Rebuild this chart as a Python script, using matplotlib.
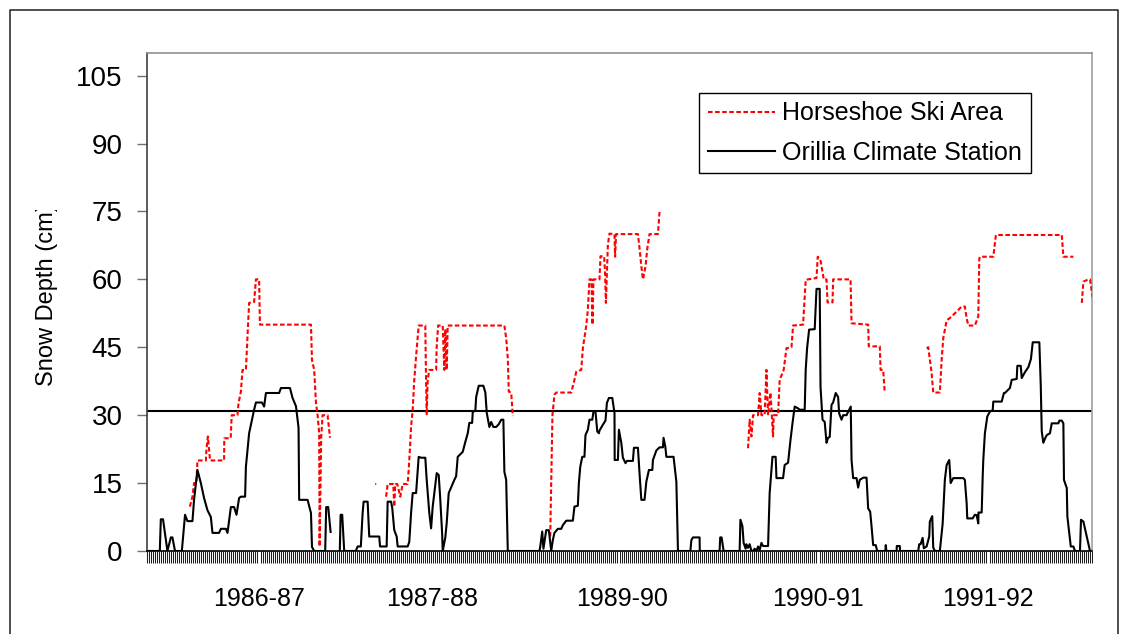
import numpy as np
import matplotlib
matplotlib.use("Agg")
import matplotlib.pyplot as plt
from matplotlib.patches import Rectangle
from matplotlib.lines import Line2D

nan = np.nan

# day index along the x axis (0 = first day shown), snow depth in cm
orillia_day = [
    # 1986-87
    0, 6.4, 6.9, 8, 10.2, 11.9, 12.7, 14, 17.4, 19, 20.2, 22.7, 23.5, 25.2, 26.9, 28.5, 30.2,
    31.9, 32.7, 36, 36.9, 39.4, 40.2, 41.9, 43.5, 44.7, 46, 46.9, 49, 49.4, 51, 53.5, 54.4,
    57.4, 58.5, 59.4, 66, 66.9, 71.4, 72.7, 74.4, 75.7, 76, 80.2, 81.9, 82.4, 83.5, 89, 89.5,
    90.5, 91, 91.7, 94, 96.3, 96.7, 97.5, 98.5,
    # 1987-88
    104.3, 105.2, 106.8, 107.7, 108.2, 110.2, 111, 116, 116.4, 119.7, 120.2, 121.9, 122.5,
    123.5, 124.7, 125.2, 130.2, 131, 131.9, 132.7, 134.4, 135.7, 136.9, 139, 139.7, 141,
    141.9, 142.7, 143.5, 144.7, 145.7, 146.4, 147.4, 147.7, 149, 149.7, 150.7, 153.5, 154.4,
    155.2, 157.7, 159, 160.2, 161, 162.4, 162.7, 164, 164.4, 165.7, 168, 169, 169.7, 171,
    171.9, 173, 174.4, 175.7, 176.9, 178, 178.5, 179.4, 180.2,
    # 1989-90
    196, 196.4, 197.4, 198, 199.4, 200.7, 201.9, 202.7, 203.5, 205.2, 206.9, 207.7, 209.4,
    212.7, 213.5, 215.2, 215.7, 216.4, 217.4, 218.5, 219, 220.2, 221, 222.4, 223, 224, 224.9,
    225.7, 226, 227.7, 229, 229.7, 230.7, 232.4, 233.5, 233.6, 235.2, 235.7, 236.9, 237.7,
    239, 239.7, 242.7, 243.2, 245.2, 246, 246.9, 248.5, 249.4, 250.7, 252.4, 252.7, 254.4,
    256, 257.7, 258, 258.9, 259.4, 263, 264.4, 265.2, 271.4, 271.9, 272.7, 276, 276.1, 286,
    286.3, 287, 288, 296,
    # 1990-91
    296.4, 297.4, 298, 299, 299.4, 300.2, 301, 301.9, 302.7, 303.5, 304.4, 305.2, 306, 306.9,
    307.7, 310.2, 311, 312.4, 314, 314.4, 317.7, 318.5, 320.2, 321.4, 322.4, 323.5, 325.2,
    326, 328.5, 329, 329.7, 330.7, 333.5, 334.4, 336, 336.4, 337.4, 338.5, 339.4, 340.2, 341,
    341.9, 342.7, 344, 345.2, 345.7, 346.9, 347.7, 349.4, 351.5, 351.9, 352.7, 354.4, 355.2,
    356, 357.7, 359.4, 360.2, 361.2, 361.9, 362.7, 364, 364.7, 368.8, 369, 369.3, 374.4,
    374.5, 376, 376.1, 385.2,
    # 1991-92
    385.7, 386.4, 387.4, 388, 389.4, 390.7, 391, 392.2, 392.7, 393.5, 396, 397.4, 398.5,
    399.4, 400.7, 401.4, 402.7, 407.7, 408.5, 409.4, 409.7, 412.4, 413.5, 414.4, 415.2,
    415.3, 416.9, 417.4, 417.7, 418.5, 419.7, 421, 422.4, 422.7, 426.9, 428, 428.5, 431,
    431.9, 434.4, 434.7, 436.4, 436.9, 438.5, 440.2, 441.5, 442.4, 445.7, 446.4, 446.9,
    447.7, 448.5, 449.4, 451, 451.9, 455.2, 455.7, 456.9, 457.7, 458, 459.4, 459.7, 461.4,
    462.7, 463.5, 466, 466.5, 467.7, 469, 469.9, 471,
]
orillia_cm = [
    # 1986-87
    0, 0, 7, 7, 0, 3, 3, 0, 0, 8, 6.6, 6.6, 11.3, 17.9, 15, 11.7, 9,
    7.5, 4, 4, 4.9, 4.9, 4, 9.7, 9.7, 8, 11.7, 12, 12, 18.6, 26, 31.2, 32.8,
    32.8, 31.9, 34.9, 34.9, 36, 36, 33.8, 32, 27.2, 11.3, 11.3, 8.4, 0.9, 0, 0, 9.7,
    9.7, 7.5, 4.2, nan, 0, 8, 8, 0,
    # 1987-88
    0, 1, 1, 8.4, 10.9, 10.9, 3.2, 3.2, 1, 1, 10.9, 10.9, 9.5,
    4.6, 3.2, 1, 1, 2, 8.4, 12.8, 12.8, 20.8, 20.6, 20.6, 15.7, 8.4,
    5, 9.8, 12.8, 17.2, 16.8, 12, 4, 0, 3, 6.2, 12.8, 15.7, 16.5,
    20.8, 21.9, 24.1, 26, 28.3, 28.3, 30.7, 31, 34, 36.5, 36.5, 35, 30.5, 27.4,
    28.5, 27.4, 27.4, 28, 29, 29, 17.5, 15.7, 0,
    # 1989-90
    0, 0.9, 4.3, 0.5, 4.6, 4.6, 0, 2.4, 4, 4.9, 4.9, 5.7, 6.7,
    6.7, 9.8, 10, 15, 18.6, 20.8, 20.8, 25.6, 26.8, 29, 29, 30.8, 30.8, 26.4,
    26, 26.6, 27.9, 28.8, 32.7, 33.8, 33.8, 30.5, 20.1, 20.1, 26.8, 23.9, 20.6,
    19.4, 19.9, 19.9, 22.8, 22.8, 17.2, 11.3, 11.3, 15.3, 17.9, 17.9, 20.1, 22.2,
    22.9, 22.9, 25, 23, 20.8, 20.8, 15.3, 0, 0, 2.4, 3, 3, 0, 0,
    3, 3, 0, 0,
    # 1990-91
    6.9, 5.5, 1.8, 0.5, 1.5, 0.7, 1.5, 0, 0, 0.5, 0, 1, 0.2, 1.8,
    1.1, 1.1, 12.8, 20.8, 20.8, 16.1, 16.1, 19, 19.5, 24.5, 28.2, 31.9, 31.5,
    31.2, 31.2, 40, 44.8, 48.9, 49, 57.9, 57.9, 36.3, 29, 28.5, 23.9, 25, 25.2,
    32.3, 32.8, 34.9, 34, 30.4, 29, 30, 30, 31.9, 20.1, 16.1, 16.1, 14,
    15.7, 16.2, 16.2, 9.4, 8.7, 5.4, 1.3, 1.3, 0, 0, 1.3, 0, 0,
    1.1, 1.1, 0, 0,
    # 1991-92
    1.5, 1.5, 2.9, 0.6, 1, 3.2, 6.5, 7.7, 0.8, 0, 0, 6, 15.7,
    19, 20.1, 15, 16.1, 16.1, 15.7, 10.5, 7.2, 7.2, 8, 7.9, 6.1,
    8.5, 8.5, 16.4, 20.1, 26, 29.7, 30.8, 31.1, 33, 33, 34.9, 34.9, 36,
    37.8, 38, 40.9, 40.9, 38.2, 39.5, 40.6, 42.4, 46.1, 46.1, 36.7, 26.4,
    23.9, 24.8, 25.6, 26, 28.2, 28.2, 28.8, 28.8, 28.2, 15.7, 13.9, 7.6, 1,
    1, 0, 0, 6.9, 6.5, 3.9, 2, 0,
]

horseshoe_day = [
    # 1986-87
    21.4, 22.7, 23.5, 24.7, 25.2, 29.4, 29.7, 30.4, 31.5, 38.5, 38.6, 41.8, 42.3, 45.2,
    45.7, 46.9, 47.7, 49.4, 50.2, 51, 53.5, 54.4, 56, 56.4, 81.9, 82.4, 83.5, 84.4, 85.2,
    86, 86.2, 87, 87.7, 90.2, 91.4, 100,
    # 1987-88
    114, 114.5, 117, 119.4, 120.2, 123, 123.5, 124, 125, 126.5, 127.7, 130.2, 130.7, 131.4,
    131.9, 132.7, 133.5, 134.4, 135.7, 139, 139.3, 139.7, 140.2, 141, 144.4, 144.7, 145.4,
    147.7, 148.5, 149, 149.7, 150.2, 178.5, 179.4, 180.2, 180.7, 181.9, 182.7, 190,
    # 1989-90
    201.4, 202.5, 203.5, 204.4, 211.9, 213.5, 214.4, 216.9, 217.7, 219.4, 220.2, 221, 222,
    222.5, 223, 226, 226.5, 228.3, 228.8, 229.2, 230.2, 231, 233.5, 233.8, 234.3, 245.2, 246,
    246.9, 247.7, 249, 249.9, 251, 255.2, 256, 256.9, 280,
    # 1990-91
    300.2, 301, 301.9, 302.7, 305.2, 306, 306.9, 308.5, 309.4, 310.2, 311.4, 312.7, 313,
    315.2, 316, 318, 319.4, 321.9, 322.7, 327.7, 329, 330.2, 334.4, 335, 336.5, 338, 339.4,
    339.9, 342.4, 342.7, 351.4, 351.9, 360.2, 360.5, 366, 366.4, 367.7, 368.5, 380,
    # 1991-92
    389.4, 390.2, 391.9, 392.7, 396, 396.9, 397.7, 399.4, 401.9, 404.4, 406.9, 408.5,
    409.4, 410.2, 413.5, 415.2, 415.7, 416, 422.7, 424, 456.9, 457.7, 462.7, 465,
    466.9, 467.7, 470.2, 471, 472.4,
]
horseshoe_cm = [
    # 1986-87
    9.8, 12, 15, 15, 20, 20, 22.5, 25.3, 20, 20, 24.9, 24.9, 30, 30,
    32.6, 35.2, 40, 40, 47.4, 54.8, 55, 60, 60, 50, 50, 42.2, 40, 32.7, 30,
    26, 1, 25, 30, 30, 25, nan,
    # 1987-88
    14.8, 14.8, nan, 12, 14.8, 14.8, 9.8, 14.8, 14.8, 12, 14.8, 14.8, 17.9, 23.1,
    27.5, 31.2, 37.8, 43, 49.8, 49.8, 40, 30, 37.8, 40, 40, 45.2, 49.8,
    49.8, 40, 49, 40, 49.8, 49.8, 47, 42.6, 35.2, 35, 29.8, nan,
    # 1989-90
    3.2, 30, 34.5, 35, 35, 37.8, 39.6, 40, 44.8, 49.8, 53.3, 60, 60,
    50, 60, 60, 65.1, 65.1, 61.4, 54.8, 67.7, 70.1, 70, 65, 70, 70, 66.9,
    62.9, 60, 62.9, 66.9, 70, 70, 75, 75, nan,
    # 1990-91
    22.7, 29, 25.3, 30, 30, 34.9, 30, 30, 40, 30, 35, 25.3, 30,
    30, 37.8, 40, 44.8, 45, 49.8, 50, 59.9, 60, 60.3, 65, 64, 60, 60,
    54.9, 54.9, 60, 60, 50.3, 50, 45.2, 45.2, 40, 40, 34.9, nan,
    # 1991-92
    44.8, 45, 39.3, 35, 35, 42.2, 47, 50.9, 51.8, 52.9, 54, 54,
    51.4, 49.8, 49.8, 51.8, 64.5, 65, 65, 69.8, 69.8, 65, 65, nan,
    54.8, 59.5, 60, 60, 55.8,
]

threshold_cm = 31
season_labels = ["1986-87", "1987-88", "1989-90", "1990-91", "1991-92"]
season_centers = [56, 142.5, 237.5, 335, 420]

plt.rcParams['font.family'] = ['Liberation Sans', 'DejaVu Sans']

fig = plt.figure(figsize=(11.26, 6.34), dpi=100)
ax = fig.add_axes([147 / 1126, 83 / 634, 945 / 1126, 498 / 634])

ax.plot(horseshoe_day, horseshoe_cm, color="red", linewidth=1.5,
        linestyle=(0, (2.2, 1.2)), label="Horseshoe Ski Area", zorder=3)
ax.plot(orillia_day, orillia_cm, color="black", linewidth=1.5,
        label="Orillia Climate Station", zorder=4)
ax.axhline(threshold_cm, color="black", linewidth=1.5, zorder=2)

ax.set_xlim(0, 472)
ax.set_ylim(0, 110)
ax.set_yticks(range(0, 106, 15))
ax.tick_params(axis="y", direction="out", length=7, width=1, color="#707070",
               labelsize=20, pad=10.5)
ax.set_xticks(season_centers, labels=season_labels)
ax.set_xticks(np.arange(0, 473), minor=True)
ax.tick_params(axis="x", which="major", length=0, labelsize=18, pad=26)
ax.tick_params(axis="x", which="minor", direction="out", length=8.6, width=0.75,
               color="#202020")

ax.spines["left"].set_color("#404040")
ax.spines["bottom"].set_color("black")
ax.spines["top"].set_color("#909090")
ax.spines["right"].set_color("#a0a0a0")
for s in ax.spines.values():
    s.set_linewidth(1.2)

leg = ax.legend(loc="upper left", bbox_to_anchor=(699 / 1126, 1 - 93 / 634),
                bbox_transform=fig.transFigure, fontsize=18, frameon=True,
                fancybox=False, framealpha=1, edgecolor="black",
                handlelength=2.68, handletextpad=0.32, labelspacing=0.6,
                borderpad=0.34, borderaxespad=0)
leg.get_frame().set_linewidth(1.0)

ylab = fig.text(47 / 1126, 1 - 386 / 634, "Snow Depth (cm)", rotation=90,
                ha="center", va="bottom", fontsize=17)
ylab.set_clip_path(Rectangle((0, 0), 1, 1 - 210 / 634, transform=fig.transFigure))

# outer frame (no bottom edge)
fx0, fx1, fy1 = 10 / 1126, 1118 / 1126, 1 - 10 / 634
fig.add_artist(Line2D([fx0, fx0, fx1, fx1], [0, fy1, fy1, 0], transform=fig.transFigure,
                      color="#303030", linewidth=1.2))

fig.savefig("out.png", dpi=100)
